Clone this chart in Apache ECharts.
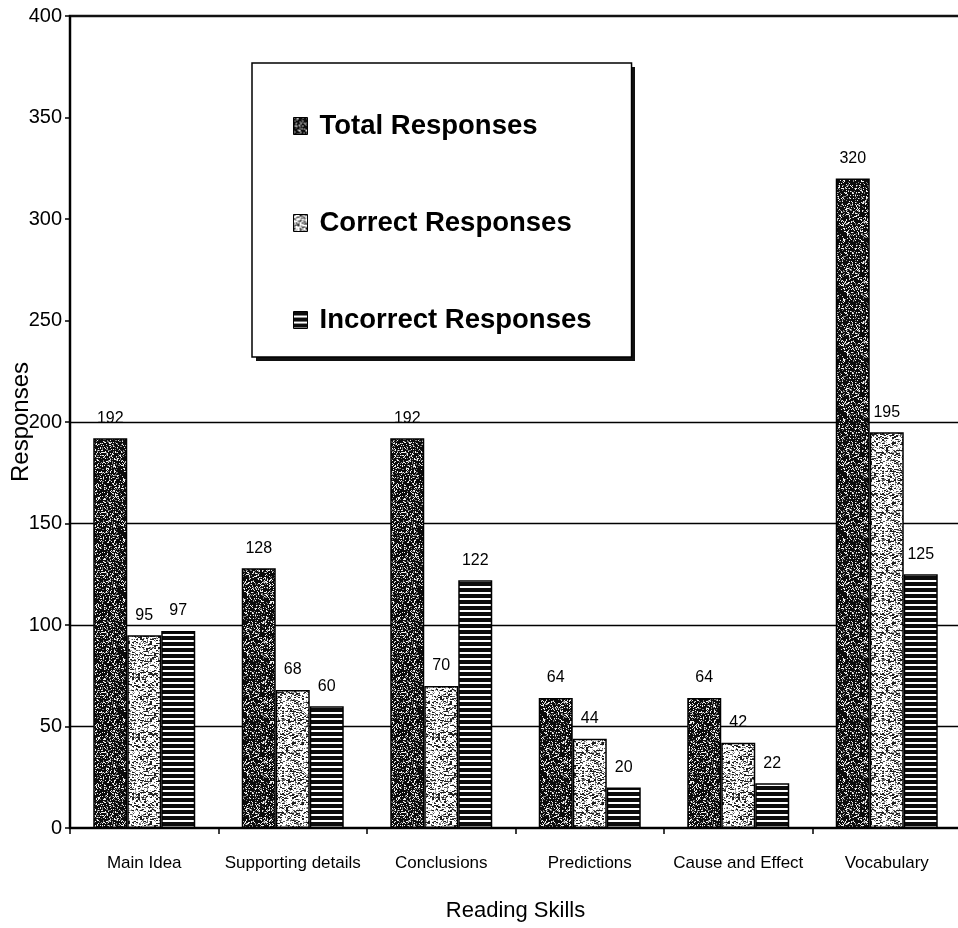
<!DOCTYPE html>
<html>
<head>
<meta charset="utf-8">
<script src="https://cdn.jsdelivr.net/npm/echarts@6/dist/echarts.min.js"></script>
<style>
html,body{margin:0;padding:0;background:#fff;}
#chart{width:958px;height:928px;}
</style>
</head>
<body>
<div id="chart"></div>
<script>
// ---- data ----
const categories = ['Main Idea', 'Supporting details', 'Conclusions', 'Predictions', 'Cause and Effect', 'Vocabulary'];
const seriesNames = ['Total Responses', 'Correct Responses', 'Incorrect Responses'];
const totalResponses = [192, 128, 192, 64, 64, 320];
const correctResponses = [95, 68, 70, 44, 42, 195];
const incorrectResponses = [97, 60, 122, 20, 22, 125];
const yMin = 0, yMax = 400, yStep = 50;

// ---- texture patterns (deterministic hash, style only) ----
function hash(x, y, s) {
  let h = (Math.imul(x, 374761393) + Math.imul(y, 668265263) + Math.imul(s, 1442695041)) | 0;
  h = Math.imul(h ^ (h >>> 13), 1274126177);
  h = h ^ (h >>> 16);
  return (h >>> 0) / 4294967295;
}
function makePattern(kind) {
  const c = document.createElement('canvas');
  const n = 60;
  c.width = n; c.height = n;
  const ctx = c.getContext('2d');
  const img = ctx.createImageData(n, n);
  for (let y = 0; y < n; y++) {
    for (let x = 0; x < n; x++) {
      let v;
      if (kind === 'dark') {
        const r = hash(x, y, 1);
        v = r < 0.16 ? 240 : (r < 0.28 ? 130 : 12);
      } else if (kind === 'speckle') {
        const r = hash(x, y, 2);
        const r2 = hash(x >> 1, y, 3);
        v = 255;
        if (r2 < 0.2) v = 30;
        else if (r < 0.16) v = 90;
        else if (r < 0.3) v = 170;
      } else {
        v = (y % 6) < 4 ? 12 : 255;
      }
      const i = (y * n + x) * 4;
      img.data[i] = v; img.data[i + 1] = v; img.data[i + 2] = v; img.data[i + 3] = 255;
    }
  }
  ctx.putImageData(img, 0, 0);
  return { image: c, repeat: 'repeat' };
}
const patterns = [makePattern('dark'), makePattern('speckle'), makePattern('stripes')];
const seriesData = [totalResponses, correctResponses, incorrectResponses];

const FONT = 'Liberation Sans, Arial, sans-serif';
const chart = echarts.init(document.getElementById('chart'), null, { renderer: 'canvas' });

const option = {
  animation: false,
  backgroundColor: '#fff',
  textStyle: { fontFamily: FONT },
  grid: {
    left: 70, right: -3, top: 16, bottom: 100,
    outerBoundsMode: 'none',
    containLabel: false,
    show: true, borderColor: '#111', borderWidth: 2.5, backgroundColor: 'transparent'
  },
  // drop shadow of the legend box
  graphic: [{
    type: 'rect',
    left: 256, top: 67,
    shape: { width: 379, height: 294 },
    style: { fill: '#111' },
    z: 3, silent: true
  }],
  legend: {
    data: seriesNames,
    orient: 'vertical',
    left: 252, top: 63,
    z: 5,
    icon: 'rect',
    itemWidth: 14, itemHeight: 17,
    itemGap: 67,
    padding: [48, 40, 22, 41],
    backgroundColor: '#fff',
    borderColor: '#000', borderWidth: 1.5,
    itemStyle: { borderColor: '#000', borderWidth: 1 },
    textStyle: { fontFamily: FONT, fontSize: 27.5, fontWeight: 'bold', color: '#000', lineHeight: 30, padding: [0, 0, 0, 7] }
  },
  xAxis: {
    type: 'category',
    data: categories,
    name: 'Reading Skills',
    nameLocation: 'middle',
    nameGap: 72,
    nameMoveOverlap: false,
    nameTextStyle: { fontFamily: FONT, fontSize: 22, color: '#000' },
    axisLine: { show: true, lineStyle: { color: '#000', width: 2 } },
    axisTick: { show: true, length: 6, lineStyle: { color: '#000', width: 1.5 } },
    axisLabel: { interval: 0, fontFamily: FONT, fontSize: 17, color: '#000', margin: 27 },
    splitLine: { show: false }
  },
  yAxis: {
    type: 'value',
    min: yMin, max: yMax, interval: yStep,
    name: 'Responses',
    nameLocation: 'middle',
    nameGap: 37,
    nameMoveOverlap: false,
    nameTextStyle: { fontFamily: FONT, fontSize: 24, color: '#000' },
    axisLine: { show: true, lineStyle: { color: '#000', width: 2 } },
    axisTick: { show: true, length: 5, lineStyle: { color: '#000', width: 1.5 } },
    axisLabel: { fontFamily: FONT, fontSize: 20, color: '#000', margin: 8 },
    splitLine: {
      show: true,
      lineStyle: {
        width: 1.3,
        color: ['rgba(0,0,0,0)', '#000', '#000', '#000', '#000',
                'rgba(0,0,0,0)', 'rgba(0,0,0,0)', 'rgba(0,0,0,0)', 'rgba(0,0,0,0)']
      }
    }
  },
  series: seriesNames.map((name, k) => ({
    name: name,
    type: 'bar',
    data: seriesData[k],
    barWidth: 34,
    barGap: '0%',
    itemStyle: { color: patterns[k], borderColor: '#000', borderWidth: 1.5 },
    label: {
      show: true, position: 'top', distance: 12,
      fontFamily: FONT, fontSize: 16, color: '#000'
    }
  }))
};
chart.setOption(option);
</script>
</body>
</html>
